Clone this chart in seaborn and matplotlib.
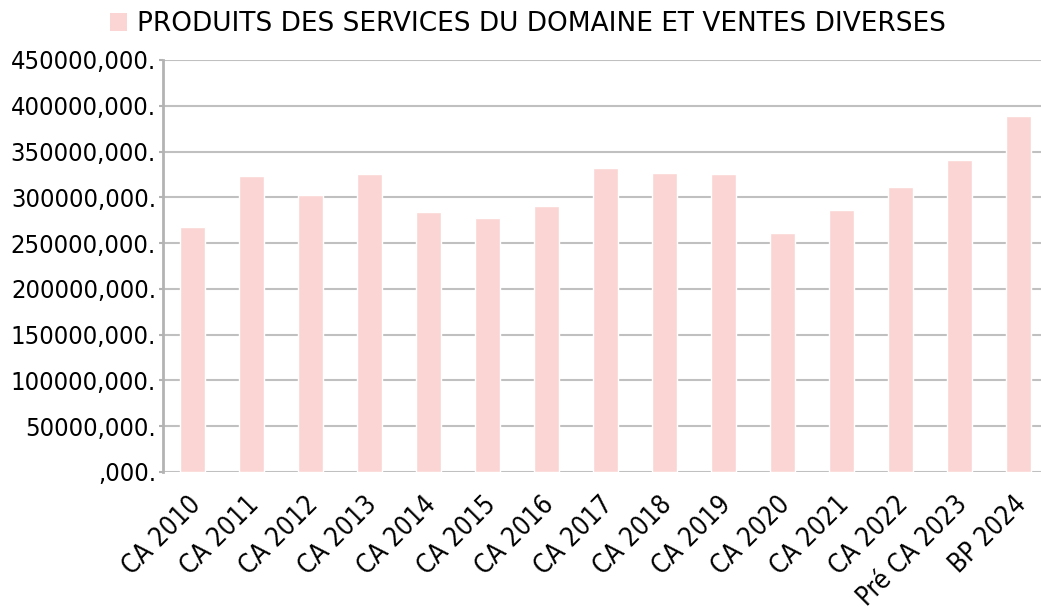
import matplotlib
matplotlib.use("Agg")
import matplotlib.pyplot as plt
import matplotlib.transforms as mtransforms
import seaborn as sns
import pandas as pd
from matplotlib.ticker import FuncFormatter
from matplotlib.patches import Patch

categories = ["CA 2010", "CA 2011", "CA 2012", "CA 2013", "CA 2014", "CA 2015",
              "CA 2016", "CA 2017", "CA 2018", "CA 2019", "CA 2020", "CA 2021",
              "CA 2022", "Pré CA 2023", "BP 2024"]
values = [267800, 323300, 302500, 325500, 284000, 277400, 290500, 332000,
          326600, 325500, 261000, 286200, 311300, 340800, 388800]
series_name = "PRODUITS DES SERVICES DU DOMAINE ET VENTES DIVERSES"
yticks = list(range(0, 450001, 50000))

sns.set_theme(style="white")
plt.rcParams['font.family'] = ['DejaVu Sans']
plt.rcParams['font.stretch'] = 'condensed'
plt.rcParams['text.color'] = 'black'

df = pd.DataFrame({"cat": categories, "val": values})

fig = plt.figure(figsize=(10.41, 6.10), dpi=100)
W, H = 1041, 610
left, right, top, bottom = 163, 1048, 60, 472
ax = fig.add_axes([left / W, 1 - bottom / H, (right - left) / W, (bottom - top) / H])

bar_color = "#fbd5d4"
sns.barplot(data=df, x="cat", y="val", color=bar_color, width=0.41,
            saturation=1, ax=ax, zorder=3)

ax.set_ylim(0, 450000)
ax.set_xlim(-0.5, len(categories) - 0.5)
ax.set_yticks(yticks)
ax.yaxis.set_major_formatter(FuncFormatter(
    lambda v, p: (f"{int(v)}" if v > 0 else "") + ",000."))
ax.grid(axis="y", color="#c0c0c0", linewidth=1.5, zorder=0)
ax.set_axisbelow(True)
for s in ["top", "right", "bottom"]:
    ax.spines[s].set_visible(False)
ax.spines["left"].set_color("#b3b3b3")
ax.spines["left"].set_linewidth(2)
ax.set_xlabel("")
ax.set_ylabel("")
ax.tick_params(axis="y", labelsize=18.3, labelcolor="black", color="#b3b3b3",
               length=3, width=1.5, pad=2, left=True)
ax.tick_params(axis="x", labelsize=18.7, labelcolor="black", length=0, pad=14)
offset = mtransforms.ScaledTranslation(-5 / 100, 0, fig.dpi_scale_trans)
for lab in ax.get_xticklabels():
    lab.set_rotation(45)
    lab.set_ha("right")
    lab.set_rotation_mode("anchor")
    lab.set_transform(lab.get_transform() + offset)

handle = Patch(facecolor=bar_color, edgecolor="none")
fig.legend([handle], [series_name], loc="center", bbox_to_anchor=(528 / W, 1 - 24 / H),
           frameon=False, handlelength=0.65, handleheight=0.65,
           handletextpad=0.4, borderaxespad=0, labelcolor="black",
           prop={"family": "DejaVu Sans", "stretch": "normal", "size": 19})

fig.savefig("out.png", dpi=100)
